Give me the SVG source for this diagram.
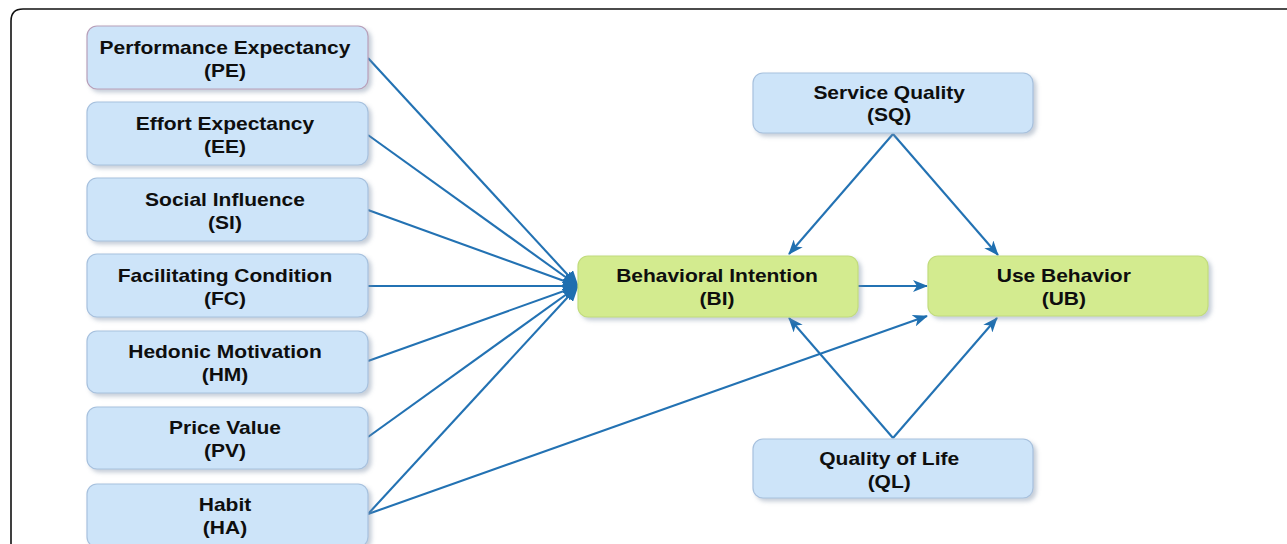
<svg xmlns="http://www.w3.org/2000/svg" width="1287" height="544" viewBox="0 0 1287 544">
<defs>
<filter id="sh" x="-10%" y="-20%" width="125%" height="150%">
<feDropShadow dx="3" dy="3" stdDeviation="2" flood-color="#7f8fa8" flood-opacity="0.45"/>
</filter>
<marker id="ah" viewBox="0 0 15 12" refX="14" refY="6" markerWidth="15" markerHeight="12" markerUnits="userSpaceOnUse" orient="auto">
<path d="M0,0 L15,6 L0,12 L4,6 Z" fill="#1f6fb0"/>
</marker>
<marker id="ah2" viewBox="0 0 16 14" refX="15" refY="7" markerWidth="16" markerHeight="14" markerUnits="userSpaceOnUse" orient="auto">
<path d="M0,0 L16,7 L0,14 Z" fill="#1f6fb0"/>
</marker>
</defs>
<style>
.blue{fill:#cde4f9;stroke:#a7c1de;stroke-width:1.2}
.pe{fill:#cde4f9;stroke:#b89fb9;stroke-width:1.2}
.green{fill:#d3eb8f;stroke:#c2dc7c;stroke-width:1.2}
.t{font-family:"Liberation Sans",Arial,sans-serif;font-weight:bold;font-size:17.5px;fill:#0e0e0e;text-anchor:middle}
.c{stroke:#2372b3;stroke-width:2.1;fill:none}
</style>
<path d="M11,544 L11,21 Q11,9 23,9 L1287,9" fill="none" stroke="#111" stroke-width="1.6"/>
<g id="connectors">
<line class="c" x1="368" y1="58" x2="578" y2="286" marker-end="url(#ah2)"/>
<line class="c" x1="368" y1="135" x2="578" y2="286" marker-end="url(#ah2)"/>
<line class="c" x1="368" y1="210" x2="578" y2="286" marker-end="url(#ah2)"/>
<line class="c" x1="368" y1="286" x2="578" y2="286" marker-end="url(#ah2)"/>
<line class="c" x1="368" y1="361" x2="578" y2="286" marker-end="url(#ah2)"/>
<line class="c" x1="368" y1="437" x2="578" y2="286" marker-end="url(#ah2)"/>
<line class="c" x1="368" y1="514" x2="578" y2="286" marker-end="url(#ah2)"/>
<line class="c" x1="368" y1="514" x2="927" y2="316" marker-end="url(#ah)"/>
<line class="c" x1="893" y1="134" x2="789" y2="254" marker-end="url(#ah)"/>
<line class="c" x1="893" y1="134" x2="998" y2="255" marker-end="url(#ah)"/>
<line class="c" x1="858" y1="286" x2="927" y2="286" marker-end="url(#ah)"/>
<line class="c" x1="893" y1="438" x2="789" y2="318" marker-end="url(#ah)"/>
<line class="c" x1="893" y1="438" x2="997" y2="318" marker-end="url(#ah)"/>
</g>
<g id="PE"><rect class="pe" x="87" y="26" width="281" height="63" rx="10" filter="url(#sh)"/>
<text class="t" transform="scale(1.2,1)" x="187.5" y="54">Performance Expectancy</text>
<text class="t" transform="scale(1.2,1)" x="187.5" y="77">(PE)</text></g>
<g id="EE"><rect class="blue" x="87" y="102" width="281" height="63" rx="10" filter="url(#sh)"/>
<text class="t" transform="scale(1.2,1)" x="187.5" y="130">Effort Expectancy</text>
<text class="t" transform="scale(1.2,1)" x="187.5" y="153">(EE)</text></g>
<g id="SI"><rect class="blue" x="87" y="178" width="281" height="63" rx="10" filter="url(#sh)"/>
<text class="t" transform="scale(1.2,1)" x="187.5" y="206">Social Influence</text>
<text class="t" transform="scale(1.2,1)" x="187.5" y="229">(SI)</text></g>
<g id="FC"><rect class="blue" x="87" y="254" width="281" height="63" rx="10" filter="url(#sh)"/>
<text class="t" transform="scale(1.2,1)" x="187.5" y="282">Facilitating Condition</text>
<text class="t" transform="scale(1.2,1)" x="187.5" y="305">(FC)</text></g>
<g id="HM"><rect class="blue" x="87" y="331" width="281" height="62" rx="10" filter="url(#sh)"/>
<text class="t" transform="scale(1.2,1)" x="187.5" y="358">Hedonic Motivation</text>
<text class="t" transform="scale(1.2,1)" x="187.5" y="381">(HM)</text></g>
<g id="PV"><rect class="blue" x="87" y="407" width="281" height="62" rx="10" filter="url(#sh)"/>
<text class="t" transform="scale(1.2,1)" x="187.5" y="434">Price Value</text>
<text class="t" transform="scale(1.2,1)" x="187.5" y="457">(PV)</text></g>
<g id="HA"><rect class="blue" x="87" y="484" width="281" height="63" rx="10" filter="url(#sh)"/>
<text class="t" transform="scale(1.2,1)" x="187.5" y="511">Habit</text>
<text class="t" transform="scale(1.2,1)" x="187.5" y="534">(HA)</text></g>
<g id="BI"><rect class="green" x="578" y="256" width="280" height="61" rx="10" filter="url(#sh)"/>
<text class="t" transform="scale(1.2,1)" x="597.5" y="282">Behavioral Intention</text>
<text class="t" transform="scale(1.2,1)" x="597.5" y="305">(BI)</text></g>
<g id="UB"><rect class="green" x="928" y="256" width="280" height="60" rx="10" filter="url(#sh)"/>
<text class="t" transform="scale(1.2,1)" x="886.5" y="282">Use Behavior</text>
<text class="t" transform="scale(1.2,1)" x="886.5" y="305">(UB)</text></g>
<g id="SQ"><rect class="blue" x="753" y="73" width="280" height="60" rx="10" filter="url(#sh)"/>
<text class="t" transform="scale(1.2,1)" x="741" y="99">Service Quality</text>
<text class="t" transform="scale(1.2,1)" x="741" y="121">(SQ)</text></g>
<g id="QL"><rect class="blue" x="753" y="439" width="280" height="59" rx="10" filter="url(#sh)"/>
<text class="t" transform="scale(1.2,1)" x="741" y="465">Quality of Life</text>
<text class="t" transform="scale(1.2,1)" x="741" y="488">(QL)</text></g>
</svg>
